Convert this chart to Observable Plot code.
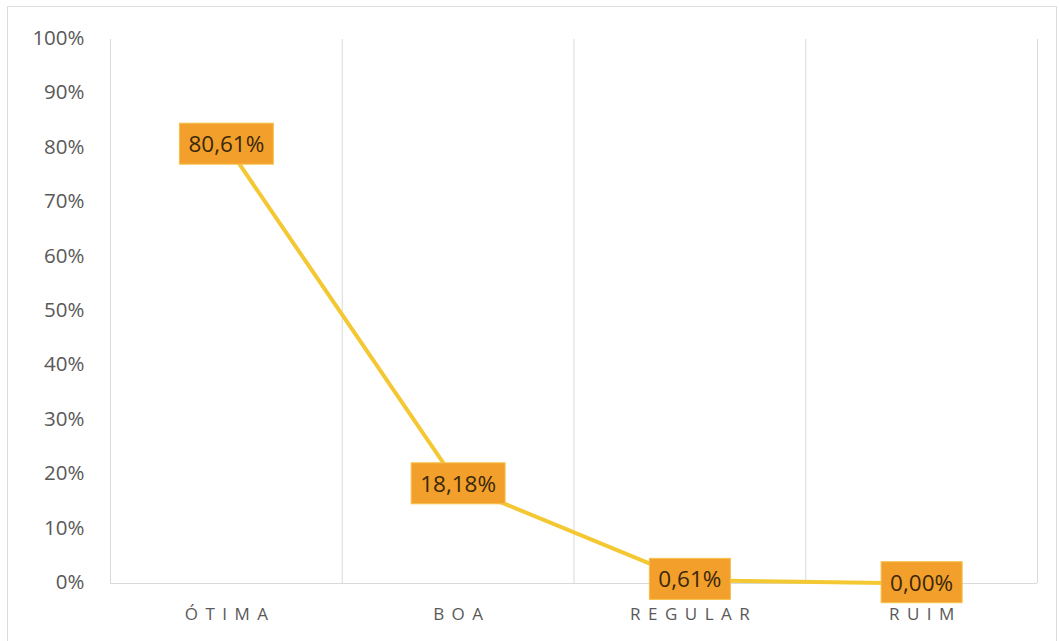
<!DOCTYPE html>
<html>
<head>
<meta charset="utf-8">
<script src="https://cdn.jsdelivr.net/npm/d3@7"></script>
<script src="https://cdn.jsdelivr.net/npm/@observablehq/plot@0.6"></script>
<style>
  html, body { margin: 0; padding: 0; background: #fff; overflow: hidden; }
  #frame { position: absolute; left: 7px; top: 6px; width: 1050px; height: 700px; border: 1px solid #dcdcdc; box-sizing: border-box; }
  #chart { position: absolute; left: 0; top: 0; }
  .cat text { letter-spacing: 7.5px; }
</style>
</head>
<body>
<div id="frame"></div>
<div id="chart"></div>
<script>
const categories = ["ÓTIMA", "BOA", "REGULAR", "RUIM"];
const values = [80.61, 18.18, 0.61, 0.00];
const valueLabels = ["80,61%", "18,18%", "0,61%", "0,00%"];
const yTicks = [0, 10, 20, 30, 40, 50, 60, 70, 80, 90, 100];

const data = categories.map((c, i) => ({ i, c, v: values[i], label: valueLabels[i] }));
const boundaries = d3.range(categories.length + 1).map(k => k - 0.5);

const chart = Plot.plot({
  width: 1059,
  height: 641,
  marginLeft: 110,
  marginRight: 22,
  marginTop: 39,
  marginBottom: 58,
  style: { fontFamily: "'Open Sans', sans-serif", fontSize: "20px", color: "#595959", background: "transparent" },
  x: { type: "linear", domain: [-0.5, categories.length - 0.5], axis: null },
  y: { domain: [0, 100], axis: null },
  marks: [
    Plot.ruleX(boundaries, { stroke: "#d9d9d9", strokeWidth: 1, strokeOpacity: 1 }),
    Plot.ruleY([0], { stroke: "#d9d9d9", strokeWidth: 1, strokeOpacity: 1 }),
    Plot.axisY({ ticks: yTicks, tickFormat: d => d + "%", tickSize: 0, tickPadding: 26, fontSize: 20.5, fill: "#595959", dy: -1, label: null }),
    Plot.text(data, { x: "i", y: () => 0, text: "c", dy: 31, dx: 3.75, fontSize: 17, fill: "#595959", className: "cat" }),
    Plot.line(data, { x: "i", y: "v", stroke: "#F3C832", strokeWidth: 4 }),
    Plot.text(data, { x: "i", y: "v", text: "label", fontSize: 22.5, fill: "#3a270a", className: "lbl" })
  ]
});

document.getElementById("chart").appendChild(chart);

// add orange boxes behind the value labels
d3.select(chart).selectAll("g.lbl").each(function () {
  const g = this;
  const texts = Array.from(g.querySelectorAll("text"));
  const first = texts[0];
  texts.forEach(t => {
    const b = t.getBBox();
    const cy = b.y + b.height / 2;
    const r = document.createElementNS("http://www.w3.org/2000/svg", "rect");
    r.setAttribute("x", b.x - 9);
    r.setAttribute("y", cy - 20.5);
    r.setAttribute("width", b.width + 18);
    r.setAttribute("height", 41);
    r.setAttribute("fill", "#F2A02B");
    r.setAttribute("stroke", "#F6C04A");
    r.setAttribute("stroke-width", 1);
    const tr = t.getAttribute("transform");
    if (tr) r.setAttribute("transform", tr);
    g.insertBefore(r, first);
  });
});
</script>
</body>
</html>
